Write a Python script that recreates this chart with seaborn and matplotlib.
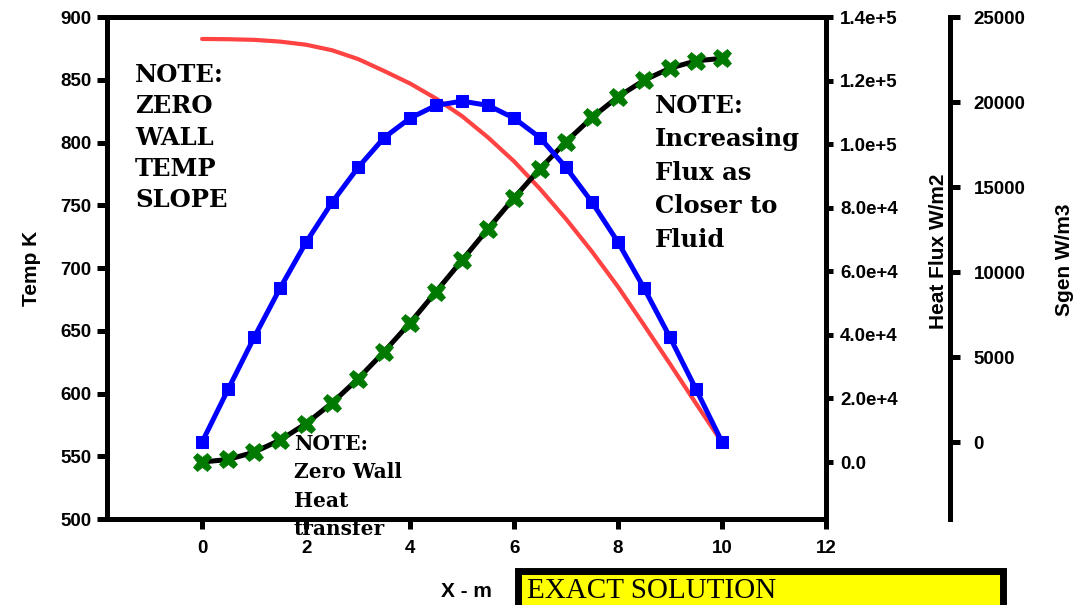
import matplotlib
matplotlib.use("Agg")
import matplotlib.pyplot as plt
import seaborn as sns
from matplotlib.patches import Rectangle
from matplotlib.ticker import FuncFormatter

# data
x_m = [0, 0.5, 1, 1.5, 2, 2.5, 3, 3.5, 4, 4.5, 5, 5.5, 6, 6.5, 7, 7.5, 8, 8.5, 9, 9.5, 10]
temp_k = [882.5, 882.3, 881.8, 880.4, 877.9, 873.5, 866.5, 857, 847, 835, 821,
          804, 785, 763, 739, 713, 685, 654.5, 623.5, 592, 561]
heat_flux = [0, 800, 3100, 6900, 12100, 18600, 26200, 34700, 43800, 53600, 63500,
             73400, 83100, 92300, 100800, 108400, 114900, 120100, 123900, 126200, 127000]
sgen = [0, 3100, 6150, 9050, 11750, 14100, 16150, 17900, 19050, 19800, 20050,
        19800, 19050, 17900, 16150, 14100, 11750, 9050, 6150, 3100, 0]

x_ticks = [0, 2, 4, 6, 8, 10, 12]
temp_ticks = [500, 550, 600, 650, 700, 750, 800, 850, 900]
flux_ticks = [0, 20000, 40000, 60000, 80000, 100000, 120000, 140000]
sgen_ticks = [0, 5000, 10000, 15000, 20000, 25000]

sns.set_style("white")
plt.rcParams['font.family'] = ['Liberation Sans', 'DejaVu Sans']
plt.rcParams['font.weight'] = 'bold'
plt.rcParams['text.color'] = 'black'
plt.rcParams['axes.labelcolor'] = 'black'
plt.rcParams['xtick.color'] = 'black'
plt.rcParams['ytick.color'] = 'black'

fig = plt.figure(figsize=(10.75, 6.05), dpi=100)
ax = fig.add_axes([0.0995, 0.1421, 0.6689, 0.8298])
ax2 = ax.twinx()
ax3 = ax.twinx()

# temperature (left axis)
sns.lineplot(x=x_m, y=temp_k, ax=ax, color='#FF4242', linewidth=3, zorder=3,
             solid_joinstyle='round', solid_capstyle='round')
# heat flux (first right axis)
sns.lineplot(x=x_m, y=heat_flux, ax=ax2, color='black', linewidth=3.6,
             marker='X', markersize=13, markerfacecolor='#007A00',
             markeredgecolor='#007A00', markeredgewidth=0.5, zorder=3)
# entropy generation (outer right axis)
sns.lineplot(x=x_m, y=sgen, ax=ax3, color='#0000FF', linewidth=3.6,
             marker='s', markersize=8, markerfacecolor='#0000FF',
             markeredgecolor='#0000FF', zorder=3)

ax.set_xlim(-1.83, 12)
ax.set_ylim(500, 900)
ax2.set_ylim(-17933, 140000)
ax3.set_ylim(-4530, 25000)

ax.set_xticks(x_ticks)
ax.set_yticks(temp_ticks)
ax2.set_yticks(flux_ticks)
ax3.set_yticks(sgen_ticks)


def flux_fmt(v, pos):
    if v == 0:
        return '0.0'
    exp = 5 if v >= 100000 else 4
    return f"{v / 10 ** exp:.1f}e+{exp}"


ax2.yaxis.set_major_formatter(FuncFormatter(flux_fmt))

ax3.spines['right'].set_position(('axes', 1.1725))
for a in (ax, ax2, ax3):
    for s in a.spines.values():
        s.set_linewidth(3.6)
        s.set_color('black')
ax2.spines['left'].set_visible(False)
ax3.spines['left'].set_visible(False)
ax3.spines['top'].set_visible(False)
ax3.spines['bottom'].set_visible(False)
ax2.spines['bottom'].set_visible(False)

ax.tick_params(axis='both', direction='out', length=7, width=3.6, labelsize=13.5, pad=4,
               colors='black')
ax.tick_params(axis='x', pad=8)
ax.tick_params(axis='y', left=True)
ax.tick_params(axis='x', bottom=True)
ax2.tick_params(axis='y', direction='out', length=5, width=3.6, labelsize=13.5, pad=5,
                right=True, colors='black')
ax3.tick_params(axis='y', direction='out', length=7, width=3.6, labelsize=13.5, pad=10,
                right=True, colors='black')
for a in (ax, ax2, ax3):
    for lab in a.get_xticklabels() + a.get_yticklabels():
        lab.set_fontweight('bold')

ax.set_ylabel('Temp K', fontsize=15, fontweight='bold', va='center', color='black')
ax.yaxis.set_label_coords(-0.105, 0.5)
ax.set_xlabel('X - m', fontsize=15, fontweight='bold', va='center', color='black')
ax.xaxis.set_label_coords(0.50, -0.145)
ax2.set_ylabel('Heat Flux W/m2', fontsize=15, fontweight='bold', va='center', color='black')
ax2.yaxis.set_label_coords(1.156, 0.534)
ax3.set_ylabel('Sgen W/m3', fontsize=15, fontweight='bold', va='center', color='black')
ax3.yaxis.set_label_coords(1.332, 0.516)

serif = ['DejaVu Serif', 'Liberation Serif']
ax3.text(0.039, 0.908, 'NOTE:\nZERO\nWALL\nTEMP\nSLOPE', transform=ax.transAxes,
         family=serif, fontsize=17.5, fontweight='bold', va='top', ha='left',
         linespacing=1.38, zorder=10, color='black')
ax3.text(0.762, 0.847, 'NOTE:\nIncreasing\nFlux as\nCloser to\nFluid', transform=ax.transAxes,
         family=serif, fontsize=17.5, fontweight='bold', va='top', ha='left',
         linespacing=1.5, zorder=10, color='black')
ax3.text(0.260, 0.170, 'NOTE:\nZero Wall\nHeat\ntransfer', transform=ax.transAxes,
         family=serif, fontsize=14.5, fontweight='bold', va='top', ha='left',
         linespacing=1.53, zorder=10, clip_on=False, color='black')

# yellow caption box at the bottom, running off the canvas
box = Rectangle((518 / 1075, -0.05), (1003 - 518) / 1075, 0.05 + (605 - 571) / 605,
                transform=fig.transFigure, facecolor='#FFFF00', edgecolor='black',
                linewidth=5, clip_on=False)
fig.add_artist(box)
fig.text(527 / 1075, (605 - 591) / 605, 'EXACT SOLUTION', family=['Liberation Serif', 'DejaVu Serif'],
         fontsize=21, fontweight='normal', va='center', ha='left', color='black')

fig.savefig('out.png', dpi=100, facecolor='white')
